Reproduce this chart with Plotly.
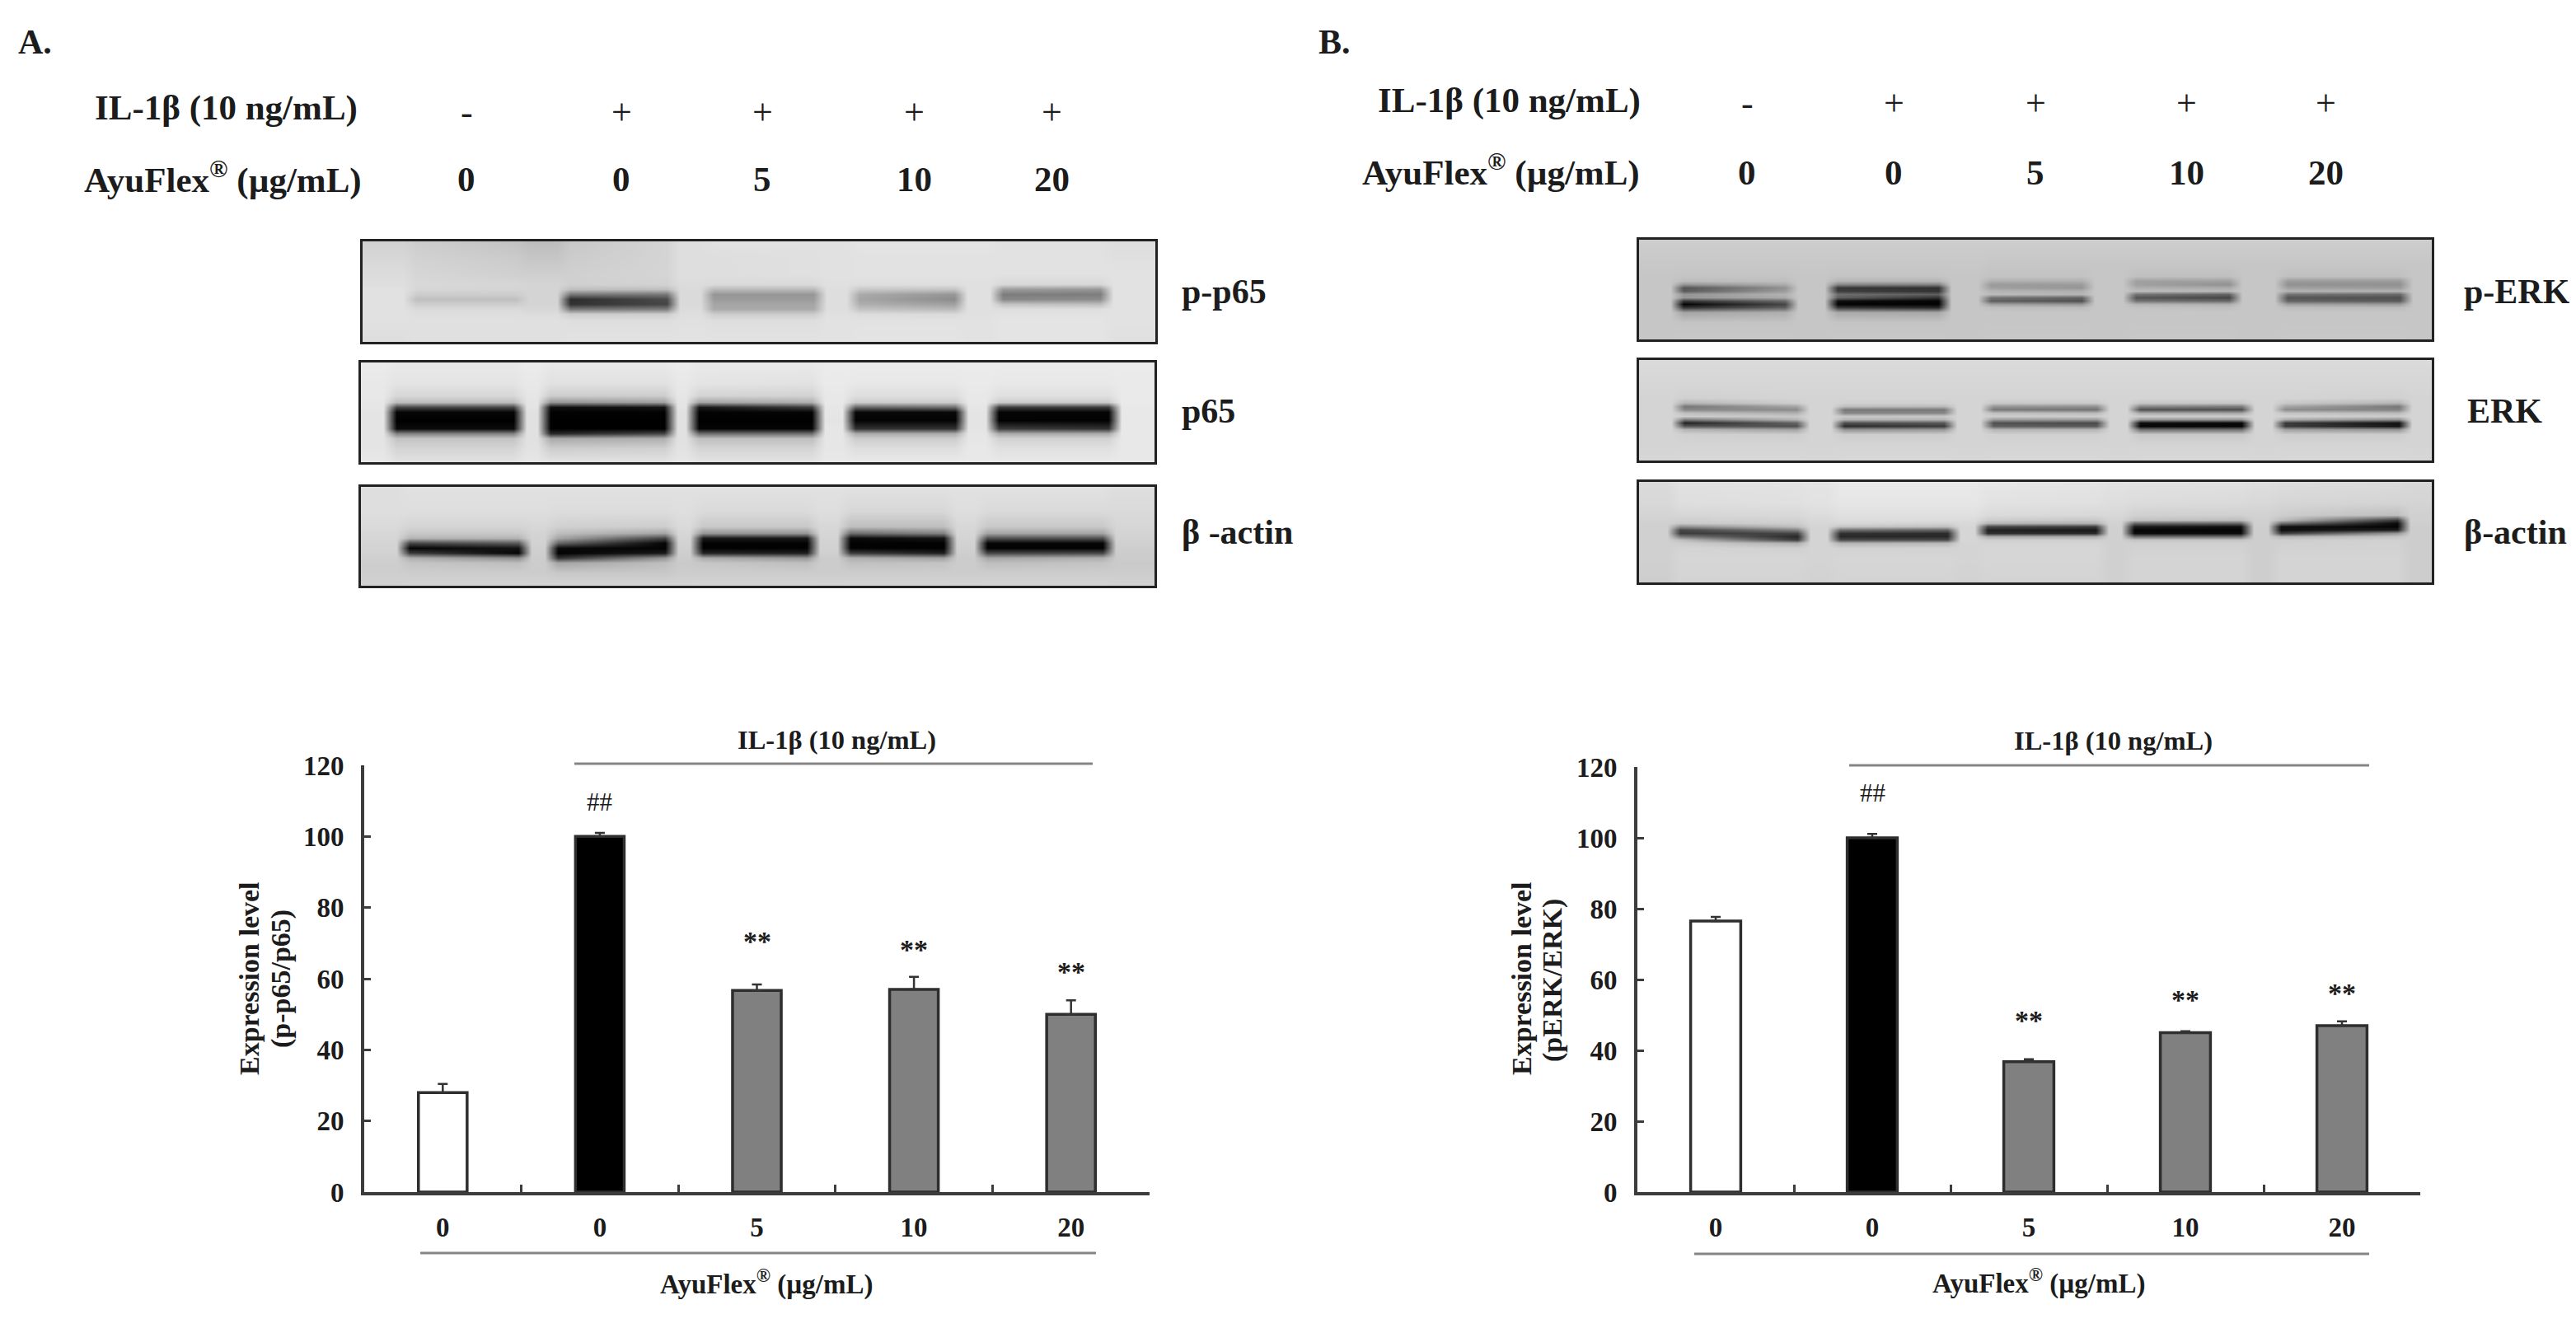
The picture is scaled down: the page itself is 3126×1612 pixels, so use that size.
from plotly import graph_objects as go

# the page sits 8px in from the window corner, so the figure is that much smaller
PAGE_OFFSET = 8
WIDTH = 3126 - PAGE_OFFSET
HEIGHT = 1612 - PAGE_OFFSET
FONT = "Liberation Serif"
INK = "#1c1c1c"

# bar values
positions = [0, 1, 2, 3, 4]
dose_labels = ["0", "0", "5", "10", "20"]
y_ticks = [0, 20, 40, 60, 80, 100, 120]
bar_colors = ["white", "black", "#808080", "#808080", "#808080"]

p65_values = [28, 100, 56.7, 57, 50]
p65_errors = [2.4, 1, 1.7, 3.5, 3.9]
p65_star_y = [70.5, 68.3, 62]
p65_hash_y = 109.6

erk_values = [76.5, 100, 36.8, 45, 47]
erk_errors = [1.2, 1.1, 0.7, 0.4, 1.2]
erk_star_y = [48.4, 54.2, 56.2]
erk_hash_y = 112.6

il1b_signs = ["-", "+", "+", "+", "+"]

# blot grey levels, 0 black to 255 white
# columns: edge, lane 1 left/right, gap, lane 2 left/right, gap ... lane 5 left/right, edge
p_p65_rows = [2, 20, 40, 52, 58, 64, 70, 76, 82, 88, 96, 119]
p_p65_grey = [
    [210, 205, 195, 190, 200, 212, 222, 225, 225, 225, 228, 228, 228, 225, 225, 222],
    [215, 210, 203, 198, 204, 212, 222, 222, 224, 225, 226, 226, 226, 226, 226, 224],
    [220, 214, 208, 207, 208, 213, 222, 222, 224, 225, 226, 226, 226, 226, 226, 226],
    [222, 216, 214, 212, 208, 210, 220, 218, 218, 224, 222, 222, 224, 215, 215, 226],
    [225, 214, 212, 212, 190, 190, 218, 185, 185, 222, 200, 195, 224, 155, 150, 226],
    [225, 205, 205, 212, 120, 120, 218, 150, 150, 222, 170, 150, 224, 125, 125, 226],
    [225, 192, 192, 212, 45, 75, 218, 155, 155, 222, 165, 140, 224, 135, 140, 226],
    [225, 205, 205, 212, 50, 70, 218, 165, 165, 222, 175, 160, 224, 195, 190, 226],
    [225, 218, 218, 215, 120, 125, 220, 170, 170, 222, 195, 185, 224, 222, 222, 226],
    [225, 222, 222, 220, 205, 205, 222, 205, 205, 224, 220, 218, 224, 226, 226, 226],
    [225, 224, 224, 224, 222, 222, 224, 222, 222, 226, 226, 226, 226, 228, 228, 226],
    [222, 224, 224, 224, 226, 226, 226, 226, 226, 226, 228, 228, 226, 228, 228, 224],
]
p_p65_lanes = [57, 194, 244, 377, 418, 555, 595, 726, 769, 903]

p65_rows = [2, 25, 40, 48, 54, 60, 70, 80, 86, 92, 104, 119]
p65_grey = [
    [235, 232, 232, 235, 232, 232, 235, 232, 232, 235, 235, 235, 235, 235, 235, 235],
    [232, 228, 228, 232, 225, 225, 232, 228, 226, 234, 232, 232, 234, 232, 232, 234],
    [232, 215, 215, 230, 205, 205, 230, 212, 210, 232, 222, 222, 232, 224, 224, 234],
    [230, 190, 190, 228, 150, 160, 228, 165, 175, 232, 205, 205, 232, 205, 205, 234],
    [230, 70, 70, 228, 15, 20, 228, 25, 60, 230, 100, 110, 230, 60, 60, 232],
    [228, 5, 5, 225, 2, 2, 225, 3, 5, 230, 8, 8, 228, 5, 5, 232],
    [228, 0, 0, 225, 0, 0, 225, 0, 0, 228, 3, 3, 228, 2, 2, 232],
    [228, 10, 10, 225, 0, 0, 225, 5, 5, 230, 50, 50, 228, 60, 50, 232],
    [228, 130, 130, 225, 40, 70, 225, 110, 110, 230, 170, 170, 230, 170, 170, 232],
    [228, 195, 195, 225, 170, 175, 225, 190, 190, 230, 205, 205, 230, 210, 210, 232],
    [228, 212, 212, 226, 205, 208, 226, 212, 212, 230, 222, 222, 232, 224, 224, 232],
    [232, 225, 225, 230, 225, 225, 230, 226, 226, 232, 232, 232, 232, 232, 232, 232],
]
p65_lanes = [35, 193, 222, 376, 402, 555, 592, 729, 766, 915]

actin_a_rows = [2, 30, 48, 56, 62, 68, 74, 80, 86, 92, 104, 119]
actin_a_grey = [
    [222, 225, 225, 225, 225, 225, 225, 225, 225, 225, 225, 225, 225, 225, 225, 222],
    [222, 222, 222, 222, 220, 220, 222, 218, 218, 222, 215, 215, 222, 218, 218, 218],
    [218, 212, 212, 215, 208, 205, 218, 200, 200, 215, 190, 190, 215, 200, 200, 214],
    [215, 200, 200, 212, 190, 165, 214, 150, 150, 214, 110, 130, 214, 165, 165, 212],
    [214, 180, 180, 210, 165, 70, 212, 25, 25, 212, 10, 20, 212, 80, 80, 210],
    [212, 70, 90, 210, 100, 5, 210, 2, 2, 210, 2, 2, 210, 5, 5, 208],
    [212, 5, 20, 208, 10, 3, 208, 2, 2, 210, 2, 2, 208, 3, 3, 206],
    [210, 60, 5, 206, 2, 25, 206, 35, 30, 208, 60, 30, 206, 70, 70, 204],
    [208, 175, 140, 205, 50, 150, 204, 170, 150, 204, 175, 160, 204, 165, 175, 204],
    [206, 196, 190, 204, 165, 190, 202, 198, 190, 204, 192, 195, 204, 190, 195, 202],
    [206, 205, 205, 204, 200, 200, 204, 205, 205, 204, 205, 205, 204, 205, 205, 204],
    [210, 212, 212, 212, 212, 212, 212, 212, 212, 212, 212, 212, 212, 212, 212, 210],
]
actin_a_lanes = [51, 199, 231, 377, 407, 549, 586, 715, 752, 908]

p_erk_rows = [2, 30, 44, 50, 54, 58, 62, 66, 70, 74, 78, 82, 88, 100, 119]
p_erk_grey = [
    [205, 205, 205, 205, 205, 205, 205, 205, 205, 205, 205, 205, 205, 205, 205, 205],
    [200, 200, 200, 200, 200, 200, 200, 198, 198, 198, 198, 198, 198, 198, 198, 198],
    [198, 196, 196, 198, 196, 196, 198, 195, 195, 198, 192, 192, 198, 192, 192, 198],
    [198, 188, 190, 198, 180, 180, 198, 175, 175, 198, 160, 160, 198, 155, 155, 198],
    [198, 150, 172, 198, 135, 130, 198, 155, 155, 198, 160, 145, 198, 145, 145, 198],
    [198, 85, 145, 198, 55, 50, 198, 160, 150, 198, 175, 170, 198, 160, 155, 198],
    [198, 90, 155, 198, 60, 50, 198, 180, 175, 198, 188, 185, 198, 180, 180, 198],
    [198, 150, 178, 198, 110, 95, 198, 188, 182, 198, 115, 100, 198, 115, 105, 198],
    [198, 150, 170, 198, 95, 50, 198, 115, 100, 198, 85, 70, 198, 85, 80, 198],
    [198, 55, 105, 198, 15, 5, 198, 95, 80, 198, 115, 105, 198, 100, 90, 198],
    [198, 5, 70, 198, 3, 3, 198, 160, 150, 198, 180, 175, 198, 160, 155, 198],
    [198, 50, 95, 198, 55, 40, 198, 192, 188, 198, 195, 192, 198, 190, 188, 198],
    [198, 165, 175, 198, 170, 168, 198, 198, 198, 198, 198, 198, 198, 198, 198, 198],
    [198, 196, 196, 198, 196, 196, 198, 198, 198, 198, 198, 198, 198, 198, 198, 198],
    [198, 200, 200, 198, 200, 200, 198, 200, 200, 198, 200, 200, 198, 200, 200, 198],
]
p_erk_lanes = [46, 185, 233, 371, 419, 545, 595, 724, 779, 931]

erk_rows = [2, 30, 46, 52, 56, 60, 64, 68, 72, 76, 80, 84, 90, 102, 119]
erk_grey = [
    [218, 218, 218, 218, 218, 218, 218, 218, 218, 218, 218, 218, 218, 218, 218, 218],
    [214, 214, 214, 214, 214, 214, 214, 214, 214, 214, 214, 214, 214, 214, 214, 214],
    [212, 208, 212, 212, 212, 212, 212, 212, 212, 212, 212, 212, 212, 212, 208, 212],
    [212, 180, 205, 212, 208, 208, 212, 200, 200, 212, 198, 198, 212, 200, 180, 212],
    [212, 120, 165, 212, 190, 185, 212, 150, 145, 212, 135, 125, 212, 165, 120, 212],
    [212, 135, 140, 212, 120, 120, 212, 120, 115, 212, 80, 80, 212, 140, 130, 212],
    [212, 190, 175, 212, 135, 135, 212, 190, 185, 212, 170, 165, 212, 195, 185, 212],
    [212, 205, 200, 212, 200, 200, 212, 205, 205, 212, 205, 205, 212, 208, 205, 212],
    [212, 125, 180, 212, 180, 180, 212, 155, 155, 212, 150, 150, 212, 170, 145, 212],
    [212, 35, 100, 212, 80, 90, 212, 80, 75, 212, 15, 10, 212, 60, 20, 212],
    [212, 85, 80, 212, 45, 60, 212, 95, 90, 212, 5, 5, 212, 60, 20, 212],
    [212, 180, 160, 212, 145, 150, 212, 180, 180, 212, 110, 110, 212, 160, 145, 212],
    [212, 208, 205, 212, 205, 205, 212, 208, 208, 212, 200, 200, 212, 205, 205, 212],
    [212, 212, 212, 212, 212, 212, 212, 212, 212, 212, 212, 212, 212, 212, 212, 212],
    [214, 215, 215, 214, 215, 215, 214, 215, 215, 214, 215, 215, 214, 215, 215, 214],
]
erk_lanes = [47, 199, 241, 378, 422, 563, 600, 739, 776, 930]

actin_b_rows = [2, 25, 40, 46, 50, 54, 58, 62, 66, 70, 74, 80, 92, 119]
actin_b_grey = [
    [218, 225, 226, 228, 232, 232, 232, 230, 228, 226, 225, 224, 222, 220, 218, 216],
    [216, 222, 224, 226, 230, 230, 230, 226, 224, 222, 220, 218, 216, 214, 212, 212],
    [212, 214, 216, 220, 224, 224, 224, 218, 216, 216, 208, 208, 210, 205, 190, 208],
    [210, 208, 210, 216, 220, 220, 220, 205, 200, 212, 195, 190, 208, 190, 60, 208],
    [208, 200, 205, 214, 215, 210, 216, 180, 175, 210, 100, 100, 208, 110, 10, 206],
    [208, 140, 190, 212, 195, 190, 214, 70, 60, 208, 25, 15, 206, 15, 5, 205],
    [208, 70, 130, 212, 110, 100, 214, 35, 25, 208, 5, 5, 206, 15, 30, 205],
    [208, 60, 70, 212, 50, 45, 214, 45, 40, 208, 10, 10, 206, 60, 150, 205],
    [208, 120, 40, 212, 40, 40, 214, 170, 170, 208, 110, 110, 206, 180, 195, 205],
    [208, 190, 60, 212, 75, 75, 214, 205, 205, 208, 195, 195, 206, 205, 208, 205],
    [208, 205, 175, 212, 180, 185, 212, 212, 212, 208, 208, 208, 206, 208, 210, 205],
    [208, 212, 208, 212, 210, 210, 212, 214, 214, 208, 210, 210, 206, 210, 210, 205],
    [208, 214, 214, 212, 214, 214, 212, 214, 214, 208, 212, 212, 206, 212, 212, 205],
    [206, 212, 212, 210, 212, 212, 210, 212, 212, 208, 212, 212, 206, 212, 212, 205],
]
actin_b_lanes = [42, 200, 236, 382, 415, 562, 593, 738, 771, 928]


def fx(x):
    return (x - PAGE_OFFSET) / WIDTH


def fy(y):
    return 1 - (y - PAGE_OFFSET) / HEIGHT


def add_label(fig, text, x, y, size, anchor="center", bold=True, angle=0):
    fig.add_annotation(
        text=text,
        x=fx(x),
        y=fy(y),
        xref="paper",
        yref="paper",
        xanchor=anchor,
        yanchor="middle",
        showarrow=False,
        textangle=angle,
        font=dict(family=FONT, size=size, color=INK, weight="bold" if bold else "normal"),
    )


def add_rule(fig, x0, x1, y):
    fig.add_shape(
        type="line",
        xref="paper",
        yref="paper",
        x0=fx(x0),
        x1=fx(x1),
        y0=fy(y),
        y1=fy(y),
        line=dict(color="#858585", width=3),
    )


def add_blot(fig, index, box, rows, grey, lanes):
    left, top, right, bottom = box
    width = right - left
    soft = 8
    # each gap value is held flat up to a soft edge beside the lane
    columns = [0, lanes[0] - soft]
    for i in range(0, 10, 2):
        columns += [lanes[i] + soft, lanes[i + 1] - soft]
        columns += [lanes[i + 1] + soft]
        columns += [lanes[i + 2] - soft if i < 8 else width]
    z = []
    for row in grey:
        wide = [row[0], row[0]]
        for i in range(5):
            gap = row[3 * i + 3]
            wide += [row[3 * i + 1], row[3 * i + 2], gap, gap]
        z.append(wide)

    name = str(index)
    fig.add_trace(
        go.Heatmap(
            x=columns,
            y=rows,
            z=z,
            zmin=0,
            zmax=255,
            zsmooth="best",
            colorscale=[[0, "#000000"], [1, "#ffffff"]],
            showscale=False,
            hoverinfo="skip",
            xaxis="x" + name,
            yaxis="y" + name,
        )
    )
    axis = dict(
        showline=True,
        mirror=True,
        linecolor="#222222",
        linewidth=3,
        showgrid=False,
        zeroline=False,
        ticks="",
        showticklabels=False,
    )
    fig.update_layout(
        {
            "xaxis" + name: dict(axis, domain=[fx(left), fx(right)], range=[0, width], anchor="y" + name),
            "yaxis" + name: dict(axis, domain=[fy(bottom), fy(top)], range=[bottom - top, 0], anchor="x" + name),
        }
    )


def add_bars(fig, index, box, values, errors, bar_width, star_y, hash_y):
    left, top, right, bottom = box
    name = str(index)
    fig.add_trace(
        go.Bar(
            x=positions,
            y=values,
            width=bar_width,
            marker=dict(color=bar_colors, line=dict(color="#2e2e2e", width=3.5)),
            error_y=dict(
                type="data",
                symmetric=False,
                array=errors,
                arrayminus=[0] * len(errors),
                color="#333333",
                thickness=2.5,
                width=6,
            ),
            hoverinfo="skip",
            xaxis="x" + name,
            yaxis="y" + name,
        )
    )
    fig.update_layout(
        {
            "xaxis" + name: dict(
                type="category",
                domain=[fx(left), fx(right)],
                anchor="y" + name,
                range=[-0.5, 4.5],
                tickmode="array",
                tickvals=positions,
                ticktext=dose_labels,
                tickson="boundaries",
                ticks="inside",
                ticklen=9,
                tickwidth=3,
                tickcolor="#3c3c3c",
                ticklabelstandoff=10,
                showline=True,
                linecolor="#3c3c3c",
                linewidth=4,
                showgrid=False,
                zeroline=False,
                tickfont=dict(family=FONT, size=33, color=INK, weight="bold"),
            ),
            "yaxis" + name: dict(
                domain=[fy(bottom), fy(top)],
                anchor="x" + name,
                range=[0, 120],
                tickmode="array",
                tickvals=y_ticks,
                ticks="inside",
                ticklen=8,
                tickwidth=3,
                tickcolor="#3c3c3c",
                ticklabelstandoff=14,
                showline=True,
                linecolor="#3c3c3c",
                linewidth=4,
                showgrid=False,
                zeroline=False,
                tickfont=dict(family=FONT, size=33, color=INK, weight="bold"),
            ),
        }
    )
    for pos, y in zip(positions[2:], star_y):
        fig.add_annotation(
            text="**",
            x=pos,
            y=y,
            xref="x" + name,
            yref="y" + name,
            showarrow=False,
            font=dict(family=FONT, size=34, color=INK, weight="bold"),
        )
    fig.add_annotation(
        text="##",
        x=1,
        y=hash_y,
        xref="x" + name,
        yref="y" + name,
        showarrow=False,
        font=dict(family=FONT, size=31, color=INK),
    )


def add_header(fig, right_edge, row_one, row_two, sign_y, dose_y, lane_x):
    add_label(fig, "IL-1β (10 ng/mL)", right_edge[0], row_one, 43, "right")
    add_label(fig, "AyuFlex<sup>®</sup> (µg/mL)", right_edge[1], row_two, 43, "right")
    for x, sign, dose in zip(lane_x, il1b_signs, dose_labels):
        add_label(fig, sign, x, sign_y, 44, bold=False)
        add_label(fig, dose, x, dose_y, 43)


fig = go.Figure()

add_blot(fig, 3, (440, 293, 1402, 415), p_p65_rows, p_p65_grey, p_p65_lanes)
add_blot(fig, 4, (438, 440, 1401, 561), p65_rows, p65_grey, p65_lanes)
add_blot(fig, 5, (438, 591, 1401, 711), actin_a_rows, actin_a_grey, actin_a_lanes)
add_blot(fig, 6, (1989, 291, 2951, 412), p_erk_rows, p_erk_grey, p_erk_lanes)
add_blot(fig, 7, (1989, 437, 2951, 559), erk_rows, erk_grey, erk_lanes)
add_blot(fig, 8, (1989, 585, 2951, 707), actin_b_rows, actin_b_grey, actin_b_lanes)

add_bars(fig, 1, (442, 929, 1395, 1447), p65_values, p65_errors, 0.31, p65_star_y, p65_hash_y)
add_bars(fig, 2, (1987, 931, 2937, 1447), erk_values, erk_errors, 0.32, erk_star_y, erk_hash_y)

add_label(fig, "A.", 20, 51, 42, "left")
add_label(fig, "B.", 1598, 51, 42, "left")

add_header(fig, (436, 441), 131, 215, 136, 217, [566, 754, 925, 1109, 1276])
add_header(fig, (1993, 1992), 122, 206, 125, 210, [2120, 2298, 2470, 2653, 2822])

add_label(fig, "p-p65", 1432, 354, 42, "left")
add_label(fig, "p65", 1432, 499, 42, "left")
add_label(fig, "β -actin", 1432, 646, 42, "left")
add_label(fig, "p-ERK", 2988, 354, 42, "left")
add_label(fig, "ERK", 2992, 499, 42, "left")
add_label(fig, "β-actin", 2988, 646, 42, "left")

add_label(fig, "IL-1β (10 ng/mL)", 1015, 898, 32.5)
add_label(fig, "IL-1β (10 ng/mL)", 2564, 899, 32.5)
add_label(fig, "AyuFlex<sup>®</sup> (µg/mL)", 930, 1556, 33)
add_label(fig, "AyuFlex<sup>®</sup> (µg/mL)", 2474, 1555, 33)
add_label(fig, "Expression level", 302, 1188, 34, angle=-90)
add_label(fig, "(p-p65/p65)", 341, 1188, 34, angle=-90)
add_label(fig, "Expression level", 1846, 1188, 34, angle=-90)
add_label(fig, "(pERK/ERK)", 1884, 1190, 34, angle=-90)

add_rule(fig, 697, 1326, 927)
add_rule(fig, 510, 1330, 1521)
add_rule(fig, 2244, 2875, 929)
add_rule(fig, 2056, 2875, 1522)

fig.update_layout(
    width=WIDTH,
    height=HEIGHT,
    margin=dict(l=0, r=0, t=0, b=0, autoexpand=False),
    paper_bgcolor="white",
    plot_bgcolor="white",
    showlegend=False,
)

fig.write_html("out.html")
